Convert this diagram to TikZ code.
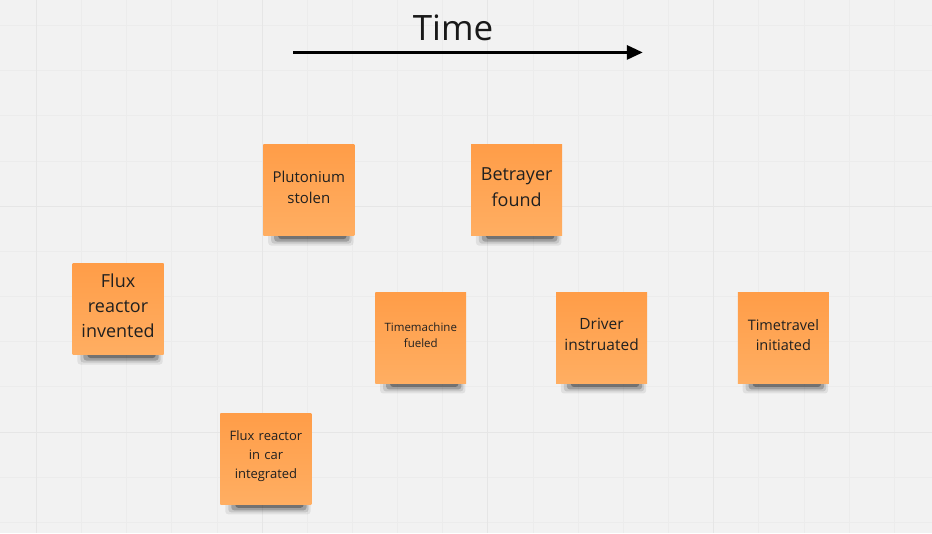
\documentclass[tikz,border=0pt]{standalone}
\usepackage{fontspec}
\setmainfont{Open Sans}
\usetikzlibrary{arrows.meta,backgrounds}
\definecolor{bgcol}{RGB}{242,242,242}
\definecolor{minorgrid}{RGB}{236,236,236}
\definecolor{majorgrid}{RGB}{230,230,230}
\definecolor{notetop}{RGB}{255,157,72}
\definecolor{notebot}{RGB}{255,174,98}
\definecolor{notetext}{RGB}{32,32,32}
\tikzset{
  minorline/.style={draw=minorgrid,line width=1pt},
  majorline/.style={draw=majorgrid,line width=1pt},
  sticky/.style={anchor=north west,minimum width=91pt,minimum height=91pt,
    inner sep=0pt,text width=84pt,align=center,text=notetext,
    top color=notetop,bottom color=notebot,
    execute at end node={\par\vspace*{6pt}}},
  shadowpart/.style={fill=black,rounded corners=3pt},
  timearrow/.style={line width=3pt,-{Triangle[length=16pt,width=14pt]}}
}
\begin{document}
\begin{tikzpicture}[x=1pt,y=-1pt]
\begin{scope}[on background layer]
\fill[bgcol] (0,0) rectangle (932,533);
\foreach \i in {0,...,19}{\draw[minorline] ({36+45.2*\i},0) -- ({36+45.2*\i},533);}
\foreach \j in {-4,...,7}{\draw[minorline] (0,{206+45.2*\j}) -- (932,{206+45.2*\j});}
\foreach \i in {0,...,3}{\draw[majorline] ({36+226*\i},0) -- ({36+226*\i},533);}
\foreach \j in {0,1}{\draw[majorline] (0,{206+226.5*\j}) -- (932,{206+226.5*\j});}
\end{scope}
\useasboundingbox (0,0) rectangle (932,533);
% time
\node[anchor=base,inner sep=0pt,text=black!90,font=\fontsize{35}{42}\selectfont] (time) at (453,40) {Time};
\coordinate (tstart) at (293,52);
\coordinate (tend) at (643,52);
\draw[timearrow] (tstart) -- (tend);
% notes
\node[sticky,font=\fontsize{15}{21}\selectfont] (pluto) at (263,144) {Plutonium\\stolen};
\node[sticky,font=\fontsize{18}{26}\selectfont] (betray) at (471,144) {Betrayer\\found};
\node[sticky,font=\fontsize{18}{25}\selectfont] (flux) at (72,263) {Flux\\reactor\\invented};
\node[sticky,font=\fontsize{11.5}{16}\selectfont] (fuel) at (375,292) {Timemachine\\fueled};
\node[sticky,font=\fontsize{15.5}{21}\selectfont] (driver) at (556,292) {Driver\\instruated};
\node[sticky,font=\fontsize{14.5}{20}\selectfont] (travel) at (738,292) {Timetravel\\initiated};
\node[sticky,font=\fontsize{13}{19}\selectfont] (car) at (220,413) {Flux reactor\\in car\\integrated};
% shadows
\begin{scope}[on background layer]
\foreach \n in {pluto,betray,flux,fuel,driver,travel,car}{
  \fill[shadowpart,opacity=0.07] ([xshift=5pt,yshift=3pt]\n.south west) rectangle ([xshift=-1pt,yshift=-10pt]\n.south east);
  \fill[shadowpart,opacity=0.11] ([xshift=8pt,yshift=3pt]\n.south west) rectangle ([xshift=-3pt,yshift=-8pt]\n.south east);
  \fill[shadowpart,opacity=0.20] ([xshift=11pt,yshift=3pt]\n.south west) rectangle ([xshift=-5pt,yshift=-6pt]\n.south east);
  \fill[shadowpart,opacity=0.28] ([xshift=15pt,yshift=3pt]\n.south west) rectangle ([xshift=-8pt,yshift=-3.5pt]\n.south east);
}
\end{scope}
\end{tikzpicture}
\end{document}
